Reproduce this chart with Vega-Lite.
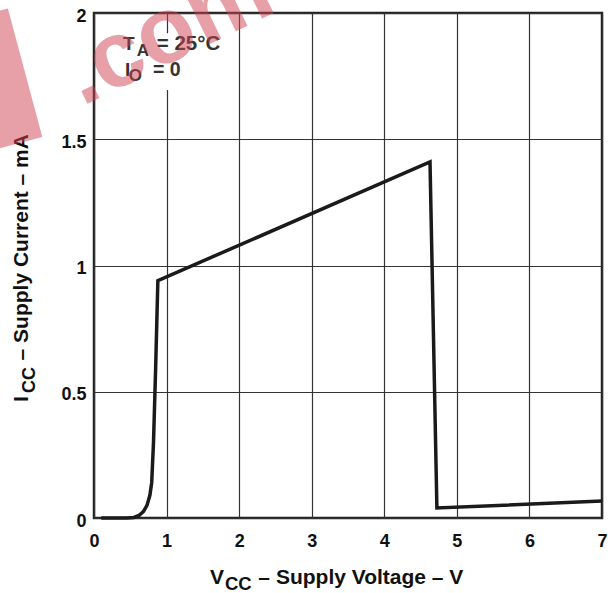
{
  "$schema": "https://vega.github.io/schema/vega-lite/v6.json",
  "autosize": "none",
  "width": 508,
  "height": 505,
  "padding": {"left": 94, "top": 13, "right": 8, "bottom": 75},
  "background": "white",
  "config": {
    "view": {"stroke": "#222", "strokeWidth": 2.5},
    "font": "Liberation Sans",
    "axis": {
      "labelFont": "Liberation Sans",
      "labelFontWeight": "bold",
      "labelFontSize": 18,
      "labelColor": "#111",
      "tickSize": 0,
      "domain": false,
      "grid": true,
      "gridColor": "#333",
      "gridWidth": 1.2,
      "gridOpacity": 1,
      "title": null
    }
  },
  "layer": [
    {
      "data": {
        "values": [
          {"v": 0.10, "i": 0.0},
          {"v": 0.45, "i": 0.0},
          {"v": 0.55, "i": 0.002},
          {"v": 0.62, "i": 0.01},
          {"v": 0.68, "i": 0.025},
          {"v": 0.73, "i": 0.05},
          {"v": 0.77, "i": 0.09},
          {"v": 0.795, "i": 0.14},
          {"v": 0.82, "i": 0.3},
          {"v": 0.85, "i": 0.6},
          {"v": 0.88, "i": 0.94},
          {"v": 4.63, "i": 1.41},
          {"v": 4.725, "i": 0.04},
          {"v": 7.0, "i": 0.067}
        ]
      },
      "mark": {"type": "line", "color": "#1a1a1a", "strokeWidth": 3.5, "strokeJoin": "miter"},
      "encoding": {
        "x": {"field": "v", "type": "quantitative", "scale": {"domain": [0, 7], "nice": false},
          "axis": {"values": [0, 1, 2, 3, 4, 5, 6, 7], "format": "~g", "labelPadding": 14, "labelFlush": false}},
        "y": {"field": "i", "type": "quantitative", "scale": {"domain": [0, 2], "nice": false},
          "axis": {"values": [0, 0.5, 1, 1.5, 2], "format": "~g", "labelPadding": 8, "labelOffset": 3}},
        "order": {"field": "v", "type": "quantitative"}
      }
    },
    {
      "data": {"values": [{}]},
      "mark": {"type": "rect", "fill": "white"},
      "encoding": {
        "x": {"datum": 0.33}, "x2": {"datum": 1.87},
        "y": {"datum": 1.695}, "y2": {"datum": 1.92}
      }
    },
    {
      "data": {"values": [{}]},
      "mark": {"type": "text", "font": "Liberation Sans", "fontWeight": "bold", "fontSize": 19, "color": "#333", "align": "left", "baseline": "alphabetic"},
      "encoding": {"x": {"datum": 0.40}, "y": {"datum": 1.853}, "text": {"value": "T"}}
    },
    {
      "data": {"values": [{}]},
      "mark": {"type": "text", "font": "Liberation Sans", "fontWeight": "bold", "fontSize": 17, "color": "#333", "align": "left", "baseline": "alphabetic"},
      "encoding": {"x": {"datum": 0.59}, "y": {"datum": 1.83}, "text": {"value": "A"}}
    },
    {
      "data": {"values": [{}]},
      "mark": {"type": "text", "font": "Liberation Sans", "fontWeight": "bold", "fontSize": 20.5, "color": "#333", "align": "left", "baseline": "alphabetic"},
      "encoding": {"x": {"datum": 0.865}, "y": {"datum": 1.853}, "text": {"value": "= 25°C"}}
    },
    {
      "data": {"values": [{}]},
      "mark": {"type": "text", "font": "Liberation Sans", "fontWeight": "bold", "fontSize": 19, "color": "#333", "align": "left", "baseline": "alphabetic"},
      "encoding": {"x": {"datum": 0.427}, "y": {"datum": 1.75}, "text": {"value": "I"}}
    },
    {
      "data": {"values": [{}]},
      "mark": {"type": "text", "font": "Liberation Sans", "fontWeight": "bold", "fontSize": 17, "color": "#333", "align": "left", "baseline": "alphabetic"},
      "encoding": {"x": {"datum": 0.48}, "y": {"datum": 1.73}, "text": {"value": "O"}}
    },
    {
      "data": {"values": [{}]},
      "mark": {"type": "text", "font": "Liberation Sans", "fontWeight": "bold", "fontSize": 19.5, "color": "#333", "align": "left", "baseline": "alphabetic"},
      "encoding": {"x": {"datum": 0.813}, "y": {"datum": 1.75}, "text": {"value": "= 0"}}
    },
    {
      "data": {"values": [{}]},
      "mark": {"type": "text", "font": "Liberation Sans", "fontWeight": "bold", "fontSize": 21, "color": "#111", "align": "left", "baseline": "alphabetic"},
      "encoding": {"x": {"datum": 1.598}, "y": {"datum": -0.261}, "text": {"value": "V"}}
    },
    {
      "data": {"values": [{}]},
      "mark": {"type": "text", "font": "Liberation Sans", "fontWeight": "bold", "fontSize": 18.5, "color": "#111", "align": "left", "baseline": "alphabetic"},
      "encoding": {"x": {"datum": 1.805}, "y": {"datum": -0.285}, "text": {"value": "CC"}}
    },
    {
      "data": {"values": [{}]},
      "mark": {"type": "text", "font": "Liberation Sans", "fontWeight": "bold", "fontSize": 21, "color": "#111", "align": "left", "baseline": "alphabetic"},
      "encoding": {"x": {"datum": 2.265}, "y": {"datum": -0.261}, "text": {"value": "– Supply Voltage – V"}}
    },
    {
      "data": {"values": [{}]},
      "mark": {"type": "text", "font": "Liberation Sans", "fontWeight": "bold", "fontSize": 21, "color": "#111", "align": "left", "baseline": "alphabetic", "angle": 270},
      "encoding": {"x": {"datum": -0.909}, "y": {"datum": 0.459}, "text": {"value": "I"}}
    },
    {
      "data": {"values": [{}]},
      "mark": {"type": "text", "font": "Liberation Sans", "fontWeight": "bold", "fontSize": 18, "color": "#111", "align": "left", "baseline": "alphabetic", "angle": 270},
      "encoding": {"x": {"datum": -0.813}, "y": {"datum": 0.495}, "text": {"value": "CC"}}
    },
    {
      "data": {"values": [{}]},
      "mark": {"type": "text", "font": "Liberation Sans", "fontWeight": "bold", "fontSize": 21, "color": "#111", "align": "left", "baseline": "alphabetic", "angle": 270},
      "encoding": {"x": {"datum": -0.909}, "y": {"datum": 0.624}, "text": {"value": "– Supply Current – mA"}}
    },
    {
      "data": {"values": [{}]},
      "mark": {"type": "text", "font": "Liberation Sans", "fontWeight": "bold", "fontSize": 94, "fill": "#d24151", "fillOpacity": 0.5, "align": "left", "baseline": "alphabetic", "angle": 334},
      "encoding": {"x": {"datum": -0.17}, "y": {"datum": 1.63}, "text": {"value": ".com"}}
    },
    {
      "data": {"values": [{}]},
      "mark": {"type": "text", "font": "DejaVu Sans", "fontSize": 112, "fill": "#d24151", "fillOpacity": 0.5, "align": "left", "baseline": "bottom", "angle": 345},
      "encoding": {"x": {"datum": -1.3}, "y": {"datum": 1.48}, "text": {"value": "▌"}}
    }
  ]
}
